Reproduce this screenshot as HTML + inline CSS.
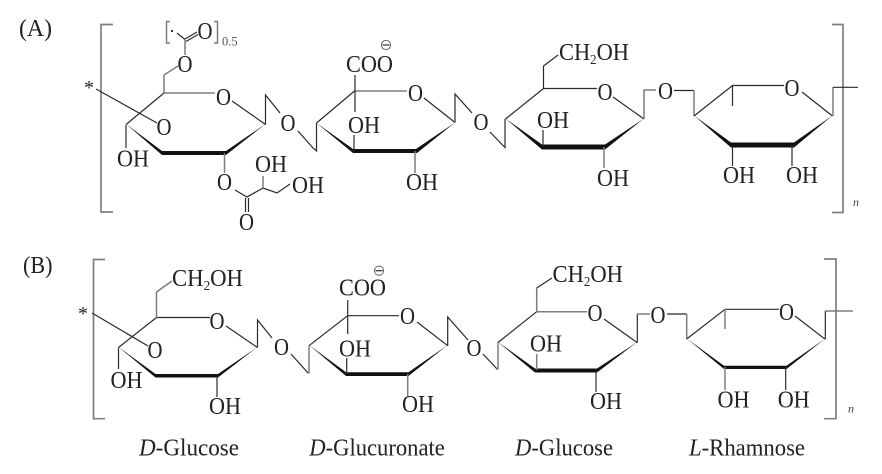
<!DOCTYPE html>
<html>
<head>
<meta charset="utf-8">
<style>
html,body{margin:0;padding:0;background:#fff;}
svg{display:block;}
text{font-family:"Liberation Serif",serif;font-size:24.5px;fill:#222;}
.l{fill:none;stroke:#2a2a2a;stroke-width:1.2;stroke-linejoin:miter;}
.g{fill:none;stroke:#7d7d7d;stroke-width:1.5;}
.b{fill:none;stroke:#808080;stroke-width:1.7;}
.w{fill:#111;stroke:none;}
.lab{font-size:24px;}
.big{font-size:24px;}
.n{font-size:12px;font-style:italic;fill:#444;}
</style>
</head>
<body>
<svg width="882" height="474" viewBox="0 0 882 474" xmlns="http://www.w3.org/2000/svg">
<!-- Panel A -->
<text class="big" x="19" y="36" textLength="33" lengthAdjust="spacingAndGlyphs">(A)</text>
<path class="b" d="M113 24.5H101V212H113"/>
<path class="b" d="M832 24.5H843V212.5H832"/>
<text class="n" x="853" y="206">n</text>
<text x="84" y="94" style="font-size:20px">*</text>
<path class="l" d="M96 89L157 123"/>

<!-- A ring 1 -->
<path class="l" d="M126 124.5L164 93"/>
<path class="g" d="M164 93H215"/>
<path class="l" d="M232 101L265.5 124.5"/>
<polygon class="w" points="126,124 162,151 226,151 265.5,124 226,155 162,155"/>
<path class="l" d="M126 125V148"/>
<text x="117" y="166.5" textLength="32" lengthAdjust="spacingAndGlyphs">OH</text>
<text x="216" y="105" textLength="15" lengthAdjust="spacingAndGlyphs">O</text>
<text x="156.5" y="135" textLength="15" lengthAdjust="spacingAndGlyphs">O</text>
<path class="g" d="M164 93V75L178 66"/>
<text x="177.5" y="72" textLength="15" lengthAdjust="spacingAndGlyphs">O</text>
<path class="g" d="M185 55V40"/>
<path class="l" d="M177 33L185 39.5M185 39L197 32M186 41.5L198 34.5"/>
<text x="197.5" y="39" textLength="15" lengthAdjust="spacingAndGlyphs">O</text>
<path class="g" d="M170 21.5H166.5V43H170M214 21.5H217.5V43H214"/>
<circle cx="172" cy="31" r="1.1" fill="#222"/>
<text x="222" y="45.5" style="font-size:12.5px;fill:#555">0.5</text>
<path class="g" d="M224.5 153V173"/>
<text x="217" y="190" textLength="15" lengthAdjust="spacingAndGlyphs">O</text>
<path class="l" d="M235 190L247 197L263 188L277 193L290 184"/>
<path class="g" d="M263 188V176"/>
<text x="255" y="172" textLength="32" lengthAdjust="spacingAndGlyphs">OH</text>
<text x="292" y="193" textLength="32" lengthAdjust="spacingAndGlyphs">OH</text>
<path class="l" d="M245.5 198V212M248.5 198V212"/>
<text x="239" y="230" textLength="15" lengthAdjust="spacingAndGlyphs">O</text>

<!-- A bridge 1 -->
<path class="l" d="M265.5 124.5V95L280 113"/>
<text x="280.5" y="131" textLength="15" lengthAdjust="spacingAndGlyphs">O</text>
<path class="l" d="M298 131L313 148L316.5 151V123"/>

<!-- A ring 2 -->
<path class="l" d="M316.5 123L354.5 91"/>
<path class="g" d="M354.5 91H407"/>
<path class="l" d="M424 98L455 122.5"/>
<polygon class="w" points="316.5,123 353,149 416,149 455,122.5 417,153 353,153"/>
<text x="346" y="72" textLength="47" lengthAdjust="spacingAndGlyphs">COO</text>
<circle cx="386" cy="45" r="4.6" fill="#fff" stroke="#666" stroke-width="1"/>
<path class="l" d="M382.5 45H389.5"/>
<path class="l" d="M355 75V112"/>
<text x="408" y="101" textLength="15" lengthAdjust="spacingAndGlyphs">O</text>
<text x="348" y="133" textLength="32" lengthAdjust="spacingAndGlyphs">OH</text>
<path class="l" d="M354 151V135"/>
<path class="g" d="M415 151V173"/>
<text x="406" y="190" textLength="32" lengthAdjust="spacingAndGlyphs">OH</text>

<!-- A bridge 2 -->
<path class="l" d="M455 122.5V94L472 113"/>
<text x="473.5" y="130" textLength="15" lengthAdjust="spacingAndGlyphs">O</text>
<path class="l" d="M490 132L505 147.5V119"/>

<!-- A ring 3 -->
<path class="l" d="M505.5 119L543.5 88.5"/>
<path class="l" d="M543.5 88.5H597"/>
<path class="l" d="M613 97L644 119"/>
<polygon class="w" points="505.5,118.5 542,144.5 605,144.5 644,118.5 605,149.5 542,149.5"/>
<path class="l" d="M543.5 88.5V66L558 55"/>
<text x="559" y="60" textLength="70" lengthAdjust="spacingAndGlyphs">CH<tspan dy="4" style="font-size:14px">2</tspan><tspan dy="-4">OH</tspan></text>
<text x="597.5" y="100" textLength="15" lengthAdjust="spacingAndGlyphs">O</text>
<text x="537" y="128" textLength="32" lengthAdjust="spacingAndGlyphs">OH</text>
<path class="l" d="M543 147V130"/>
<path class="g" d="M604 147V168"/>
<text x="597" y="186" textLength="32" lengthAdjust="spacingAndGlyphs">OH</text>

<!-- A link 3 -->
<path class="g" d="M644 119V90H656"/>
<text x="658" y="99" textLength="15" lengthAdjust="spacingAndGlyphs">O</text>
<path class="l" d="M674 90.5H694"/>
<path class="g" d="M694 90.5V116"/>

<!-- A ring 4 -->
<path class="l" d="M694 116L732.5 85.5V106M732.5 85.5H784"/>
<path class="l" d="M802 92L832.5 116"/>
<polygon class="w" points="694,115.5 731,142.5 794,142.5 832.5,115.5 794,147.5 731,147.5"/>
<text x="784.5" y="96" textLength="15" lengthAdjust="spacingAndGlyphs">O</text>
<path class="l" d="M732.5 145V166M792 145V166"/>
<text x="723" y="183" textLength="32" lengthAdjust="spacingAndGlyphs">OH</text>
<text x="786" y="183" textLength="32" lengthAdjust="spacingAndGlyphs">OH</text>
<path class="g" d="M833 116V87"/>
<path class="l" d="M833 87.3H858"/>

<!-- Panel B -->
<text class="big" x="23" y="273" textLength="29.5" lengthAdjust="spacingAndGlyphs">(B)</text>
<path class="b" d="M105 259.5H93.5V418.7H105"/>
<path class="b" d="M824 259H836V418.7H824"/>
<text class="n" x="848" y="412.5">n</text>
<text x="78" y="320" style="font-size:20px">*</text>
<path class="l" d="M92 313L148 346"/>

<!-- B ring 1 -->
<path class="l" d="M118.5 347.5L156.5 317.5"/>
<path class="l" d="M156.5 317.5H210"/>
<path class="l" d="M226 326L257.5 347.5"/>
<polygon class="w" points="118.5,347 155.5,374 218,374 257.5,347 218,377.5 155.5,377.5"/>
<path class="l" d="M118.5 347.5V369M217 375.5V397"/>
<path class="g" d="M156.5 317.5V292L172 281"/>
<text x="172" y="286" textLength="71" lengthAdjust="spacingAndGlyphs">CH<tspan dy="4" style="font-size:14px">2</tspan><tspan dy="-4">OH</tspan></text>
<text x="209.5" y="329" textLength="15" lengthAdjust="spacingAndGlyphs">O</text>
<text x="147.5" y="358" textLength="15" lengthAdjust="spacingAndGlyphs">O</text>
<text x="110.5" y="388" textLength="32" lengthAdjust="spacingAndGlyphs">OH</text>
<text x="209" y="414" textLength="32" lengthAdjust="spacingAndGlyphs">OH</text>

<!-- B bridge 1 -->
<path class="l" d="M257.5 347.5V320L272 338"/>
<text x="274" y="355" textLength="15" lengthAdjust="spacingAndGlyphs">O</text>
<path class="l" d="M291 354L308.5 373.5"/>
<path class="g" d="M309 373.5V345.7"/>

<!-- B ring 2 -->
<path class="l" d="M309 345.7L347.7 315.7H399"/>
<path class="l" d="M417 322L447.7 345.7"/>
<polygon class="w" points="309,345 346,372.2 408.5,372.2 447.7,345 408.5,376 346,376"/>
<text x="339" y="295.7" textLength="47" lengthAdjust="spacingAndGlyphs">COO</text>
<circle cx="379" cy="270.7" r="4.6" fill="#fff" stroke="#666" stroke-width="1"/>
<path class="l" d="M375.5 270.7H382.5"/>
<path class="l" d="M347.7 300V334"/>
<text x="400" y="324" textLength="15" lengthAdjust="spacingAndGlyphs">O</text>
<text x="339" y="356.7" textLength="32" lengthAdjust="spacingAndGlyphs">OH</text>
<path class="l" d="M346.7 374V358"/>
<path class="g" d="M407.7 374V396"/>
<text x="402" y="412" textLength="32" lengthAdjust="spacingAndGlyphs">OH</text>

<!-- B bridge 2 -->
<path class="l" d="M447.7 345.7V317L468 340"/>
<text x="466.5" y="356" textLength="15" lengthAdjust="spacingAndGlyphs">O</text>
<path class="l" d="M483 354L497.5 369.5"/>
<path class="g" d="M498 369.5V342.5"/>

<!-- B ring 3 -->
<path class="l" d="M498 342.5L536.7 311.7"/>
<path class="g" d="M536.7 311.7H587"/>
<path class="l" d="M604 319L637.3 342.7"/>
<polygon class="w" points="498,342 535,368.5 597,368.5 637.3,342 597,372.5 535,372.5"/>
<path class="g" d="M536.7 311.7V288"/>
<path class="l" d="M536.7 288L552 278"/>
<text x="552.5" y="282" textLength="70.5" lengthAdjust="spacingAndGlyphs">CH<tspan dy="4" style="font-size:14px">2</tspan><tspan dy="-4">OH</tspan></text>
<text x="587.5" y="321" textLength="15" lengthAdjust="spacingAndGlyphs">O</text>
<text x="530" y="351.7" textLength="32" lengthAdjust="spacingAndGlyphs">OH</text>
<path class="g" d="M536.7 370V354"/>
<path class="l" d="M596 371V392"/>
<text x="590" y="409" textLength="32" lengthAdjust="spacingAndGlyphs">OH</text>

<!-- B link 3 -->
<path class="l" d="M637.3 342.7V314"/>
<path class="g" d="M637.3 314H650"/>
<text x="650.5" y="323" textLength="15" lengthAdjust="spacingAndGlyphs">O</text>
<path class="l" d="M667 314H686.7"/>
<path class="g" d="M686.7 314V339"/>

<!-- B ring 4 -->
<path class="l" d="M686.7 339L725 309.3H779"/>
<path class="g" d="M725 309.3V329"/>
<path class="l" d="M795 316L825.3 339.3"/>
<polygon class="w" points="686.7,338.5 724,365.8 786.5,365.8 825.3,338.5 786.5,369 724,369"/>
<text x="779" y="320" textLength="15" lengthAdjust="spacingAndGlyphs">O</text>
<path class="g" d="M725 367V390"/>
<path class="l" d="M785.7 367V390"/>
<text x="717.5" y="407.3" textLength="32" lengthAdjust="spacingAndGlyphs">OH</text>
<text x="777.7" y="407.3" textLength="32" lengthAdjust="spacingAndGlyphs">OH</text>
<path class="l" d="M825.3 339V311"/>
<path class="g" d="M825.3 311H853"/>

<!-- Labels -->
<text class="lab" x="139" y="455.7" textLength="100" lengthAdjust="spacingAndGlyphs"><tspan font-style="italic">D</tspan>-Glucose</text>
<text class="lab" x="309.3" y="455.7" textLength="135.5" lengthAdjust="spacingAndGlyphs"><tspan font-style="italic">D</tspan>-Glucuronate</text>
<text class="lab" x="515" y="455.7" textLength="98" lengthAdjust="spacingAndGlyphs"><tspan font-style="italic">D</tspan>-Glucose</text>
<text class="lab" x="689" y="455.7" textLength="116" lengthAdjust="spacingAndGlyphs"><tspan font-style="italic">L</tspan>-Rhamnose</text>
</svg>
</body>
</html>
